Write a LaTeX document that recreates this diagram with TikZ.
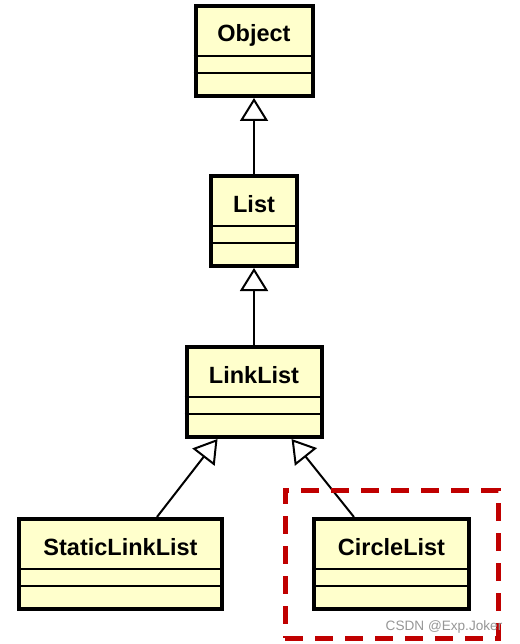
\documentclass[tikz,border=0pt]{standalone}
\usepackage{fontspec}
\setmainfont{Liberation Sans}
\usepackage{xcolor}
\usepackage{tikz}
\usetikzlibrary{shapes.multipart,arrows.meta,positioning,fit}
\definecolor{umlfill}{RGB}{255,255,204}
\definecolor{markred}{RGB}{192,0,0}
\definecolor{wmgray}{RGB}{150,150,150}
\newcommand{\umlclass}[1]{\rule[-12pt]{0pt}{46pt}#1\nodepart{two}\rule{0pt}{13pt}\nodepart{three}\rule{0pt}{19pt}}

\begin{document}
\begin{tikzpicture}[x=1pt,y=1pt,font=\bfseries\fontsize{23.5}{28}\selectfont]
\tikzset{cls/.style={rectangle split,rectangle split parts=3,rectangle split draw splits=false,draw,line width=4pt,fill=umlfill,inner xsep=0pt,inner ysep=0pt},
  split/.style={line width=2pt},
  inh/.style={line width=2pt,-{Triangle[open,length=23pt,width=28pt,fill=white]}}}
\useasboundingbox (0,0) rectangle (519,-644);
\node[cls,minimum width=117pt,anchor=north] (obj) at (254,-4) {\umlclass{Object}};
\node[cls,below=76pt of obj,minimum width=86pt] (list) {\umlclass{List}};
\node[cls,below=77pt of list,minimum width=135pt] (link) {\umlclass{LinkList}};
\node[cls,below=78pt of link,xshift=-133.5pt,minimum width=203pt] (sll) {\umlclass{StaticLinkList}};
\node[cls,below=78pt of link,xshift=137.5pt,minimum width=155pt] (cl) {\umlclass{CircleList}};
\foreach \n in {obj,list,link,sll,cl}{
  \draw[split] (\n.text split west) -- (\n.text split east);
  \draw[split] (\n.two split west) -- (\n.two split east);
}
\draw[inh] (list) -- (obj);
\draw[inh] (link) -- (list);
\draw[inh] (sll) -- (link);
\draw[inh] (cl) -- (link);
% highlight round CircleList
\node[draw=markred,line width=5pt,dash pattern=on 18pt off 12pt,fit=(cl),inner sep=27pt] (frame) {};
\node[font=\fontsize{13.6}{16}\selectfont,text=wmgray] (wm) at (444,-627) {CSDN @Exp.Joker};
\end{tikzpicture}
\end{document}
